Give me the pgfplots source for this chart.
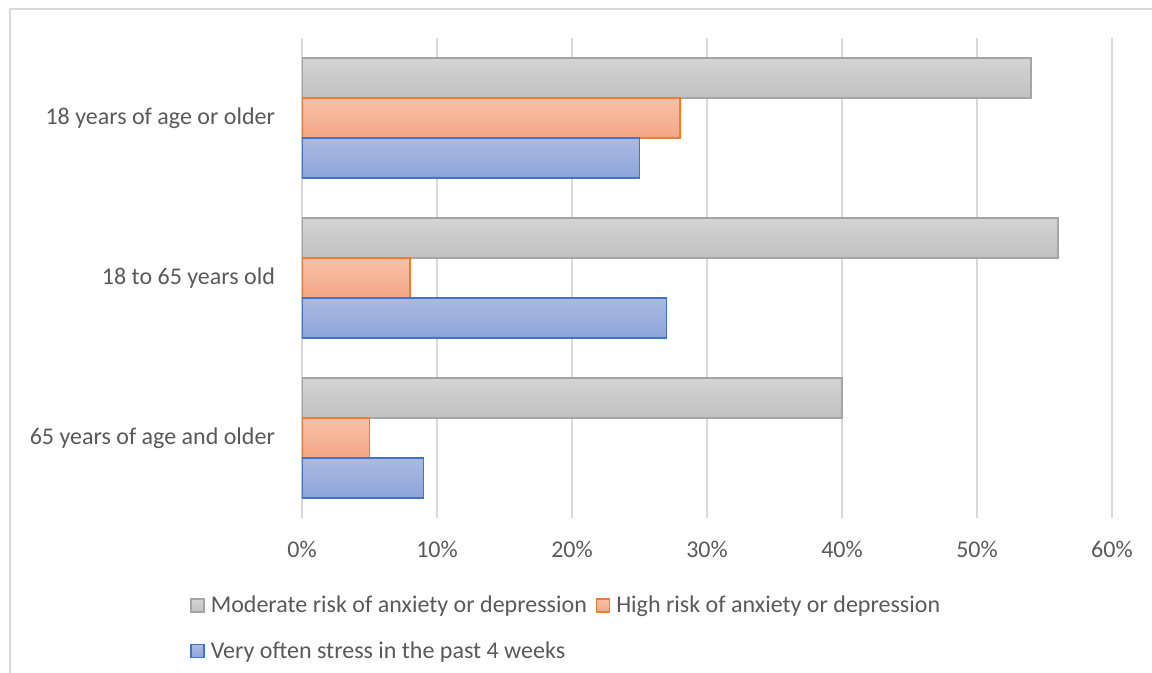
\documentclass[border=0pt]{standalone}
\usepackage{fontspec}
\setmainfont{Carlito}
\usepackage{pgfplots}
\pgfplotsset{compat=1.18}
\definecolor{txt}{HTML}{595959}
\definecolor{gridc}{HTML}{D9D9D9}
\definecolor{bordc}{HTML}{D9D9D9}
\definecolor{gtop}{HTML}{D4D4D4}
\definecolor{gbot}{HTML}{C1C1C1}
\definecolor{gedge}{HTML}{A5A5A5}
\definecolor{otop}{HTML}{F7C1A7}
\definecolor{obot}{HTML}{F4A685}
\definecolor{oedge}{HTML}{ED7D31}
\definecolor{btop}{HTML}{ABBAE2}
\definecolor{bbot}{HTML}{8DA4DA}
\definecolor{bedge}{HTML}{4472C4}
\pgfplotsset{
  gser/.style={bar shift=0.25, draw=gedge, line width=0.7pt, top color=gtop, bottom color=gbot},
  oser/.style={bar shift=0, draw=oedge, line width=0.7pt, top color=otop, bottom color=obot},
  bser/.style={bar shift=-0.25, draw=bedge, line width=0.7pt, top color=btop, bottom color=bbot},
}
\begin{document}
\begin{tikzpicture}
\path[use as bounding box] (0,0) rectangle (576pt,-336.5pt);
\draw[color=bordc, line width=1pt] (5pt,-336.5pt) -- (5pt,-4.5pt) -- (576pt,-4.5pt);
\begin{axis}[
  at={(151pt,-259pt)}, anchor=south west,
  scale only axis, width=405pt, height=240pt,
  xbar, bar width=0.25,
  xmin=0, xmax=60, ymin=-0.5, ymax=2.5,
  xtick={0,10,...,60},
  xticklabel={\pgfmathprintnumber{\tick}\%},
  ytick={0,1,2},
  yticklabels={65 years of age and older, 18 to 65 years old, 18 years of age or older},
  /pgf/number format/assume math mode=true,
  axis line style={draw=none},
  major tick length=0pt,
  xmajorgrids, major grid style={gridc, line width=0.75pt},
  every tick label/.append style={font=\fontsize{12}{14}\selectfont, text=txt},
  xticklabel style={yshift=-8pt},
  yticklabel style={xshift=-10pt},
  legend columns=2,
  legend cell align=left,
  legend style={draw=none, fill=none, at={(-0.1383,-0.155)}, anchor=north west,
    font=\fontsize{12}{14}\selectfont, text=txt, inner sep=0pt, row sep=10pt,
    nodes={inner sep=1.5pt},
    /tikz/every odd column/.append style={column sep=1.5pt},
    /tikz/every even column/.append style={column sep=3pt}},
  legend image code/.code={\draw[#1] (0pt,-3.25pt) rectangle (6.5pt,3.25pt);},
]
\addplot[gser] coordinates {(54,2)};
\addlegendentry{Moderate risk of anxiety or depression}
\addplot[gser, forget plot] coordinates {(56,1)};
\addplot[gser, forget plot] coordinates {(40,0)};
\addplot[oser] coordinates {(28,2)};
\addlegendentry{High risk of anxiety or depression}
\addplot[oser, forget plot] coordinates {(8,1)};
\addplot[oser, forget plot] coordinates {(5,0)};
\addplot[bser] coordinates {(25,2)};
\addlegendentry{Very often stress in the past 4 weeks}
\addplot[bser, forget plot] coordinates {(27,1)};
\addplot[bser, forget plot] coordinates {(9,0)};
\end{axis}
\end{tikzpicture}
\end{document}
